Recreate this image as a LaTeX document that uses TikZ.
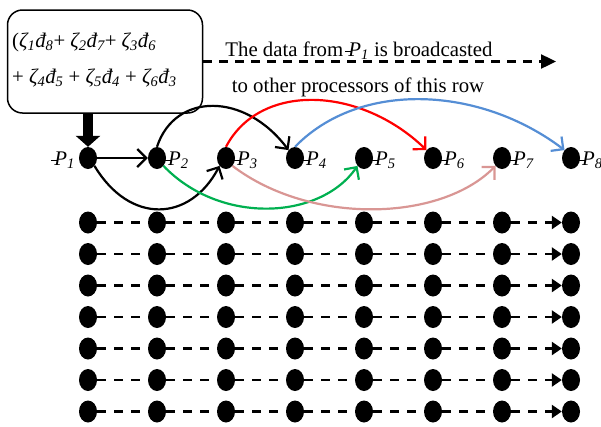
\documentclass[tikz,border=0pt]{standalone}
\usepackage{fontspec}
\setmainfont{Liberation Serif}
\usetikzlibrary{shapes.geometric,arrows.meta}
\newcommand\bigf{\fontsize{20.8}{24}\selectfont}
\newcommand\Pb{\textit{\makebox[0pt][l]{\kern-0.16em\rule[0.17em]{0.3em}{0.06em}}P}}
\newcommand\zd[2]{\textit{ζ\textsubscript{#1}đ\textsubscript{#2}}}
\newcommand\lab[1]{\Pb\textsubscript{\textit{#1}}}
\definecolor{cblue}{HTML}{558ED5}
\definecolor{cgreen}{HTML}{00B050}
\definecolor{cpink}{HTML}{D99694}
\begin{document}
\begin{tikzpicture}[x=1pt,y=-1pt,
  dot/.style={ellipse,fill=black,draw=none,minimum width=18pt,minimum height=22pt,inner sep=0pt},
  txt/.style={font=\bigf,inner sep=0pt},
  conn/.style={line width=2.2pt,-{Straight Barb[length=9pt,width=18pt,line width=2.2pt]}},
  griddash/.style={line width=2.4pt,dash pattern=on 9pt off 8pt},
  gridarrow/.style={griddash,-{Triangle[length=10pt,width=13pt]}},
  topdash/.style={line width=2.4pt,dash pattern=on 9pt off 7pt,-{Triangle[length=15pt,width=14pt]}}
]
\useasboundingbox (0,0) rectangle (601,426);

% box
\node[draw,line width=1.5pt,rounded corners=15pt,minimum width=195pt,minimum height=103pt,inner sep=0pt] (box) at (105,61.5) {};
\node[txt,anchor=base west] (z1) at (12,47) {(\zd{1}{8}+ \zd{2}{7}+ \zd{3}{6}};
\node[txt,anchor=base west] (z2) at (12,83) {+ \zd{4}{5} + \zd{5}{4} + \zd{6}{3}};

% top text and dashed arrow
\node[txt,anchor=base] (t1) at (359,56) {The data from \lab{1} is broadcasted};
\node[txt,anchor=base] (t2) at (358,92) {to other processors of this row};
\coordinate (dend) at (556,61.5);
\draw[topdash] (box.east) -- (dend);

% top row
\foreach \i in {1,...,8} {
  \node[dot] (d\i) at ({88+69*(\i-1)},158) {};
}
\node[txt,anchor=base east] (l1) at (75,165) {\lab{1}};
\foreach \i in {2,...,8} {
  \node[txt,anchor=base west] (l\i) at ({88+69*(\i-1)+11},165) {\lab{\i}};
}

% thick arrow
\draw[line width=9.5pt,-{Triangle[length=11pt,width=24pt]}] (box.south -| d1) -- (d1.north);

% connectors
\draw[conn] (d1) -- (d2);
\draw[conn] (d2.north) .. controls (175,92) and (245,92) .. (d4.north west);
\draw[conn] (d1.south east) .. controls (130,225) and (190,222) .. (d3.south west);
\draw[conn,cgreen] (d2.south east) .. controls (220,225) and (320,220) .. (d5.south west);
\draw[conn,cpink] (d3.south east) .. controls (310,225) and (440,222) .. (d7.south west);
\draw[conn,red] (d3.north) .. controls (260,82) and (360,86) .. (d6.north west);
\draw[conn,cblue] (d4.north) .. controls (360,80) and (480,86) .. (d8.north west);

% grid
\foreach \r in {1,...,7} {
  \foreach \c in {1,...,8} {
    \node[dot] (g\r-\c) at ({88+69*(\c-1)},{222.5+31.5*(\r-1)}) {};
  }
  \foreach \c [evaluate=\c as \n using int(\c+1)] in {1,...,6} {
    \draw[griddash] (g\r-\c) -- (g\r-\n);
  }
  \draw[gridarrow] (g\r-7) -- (g\r-8);
}
\end{tikzpicture}
\end{document}
